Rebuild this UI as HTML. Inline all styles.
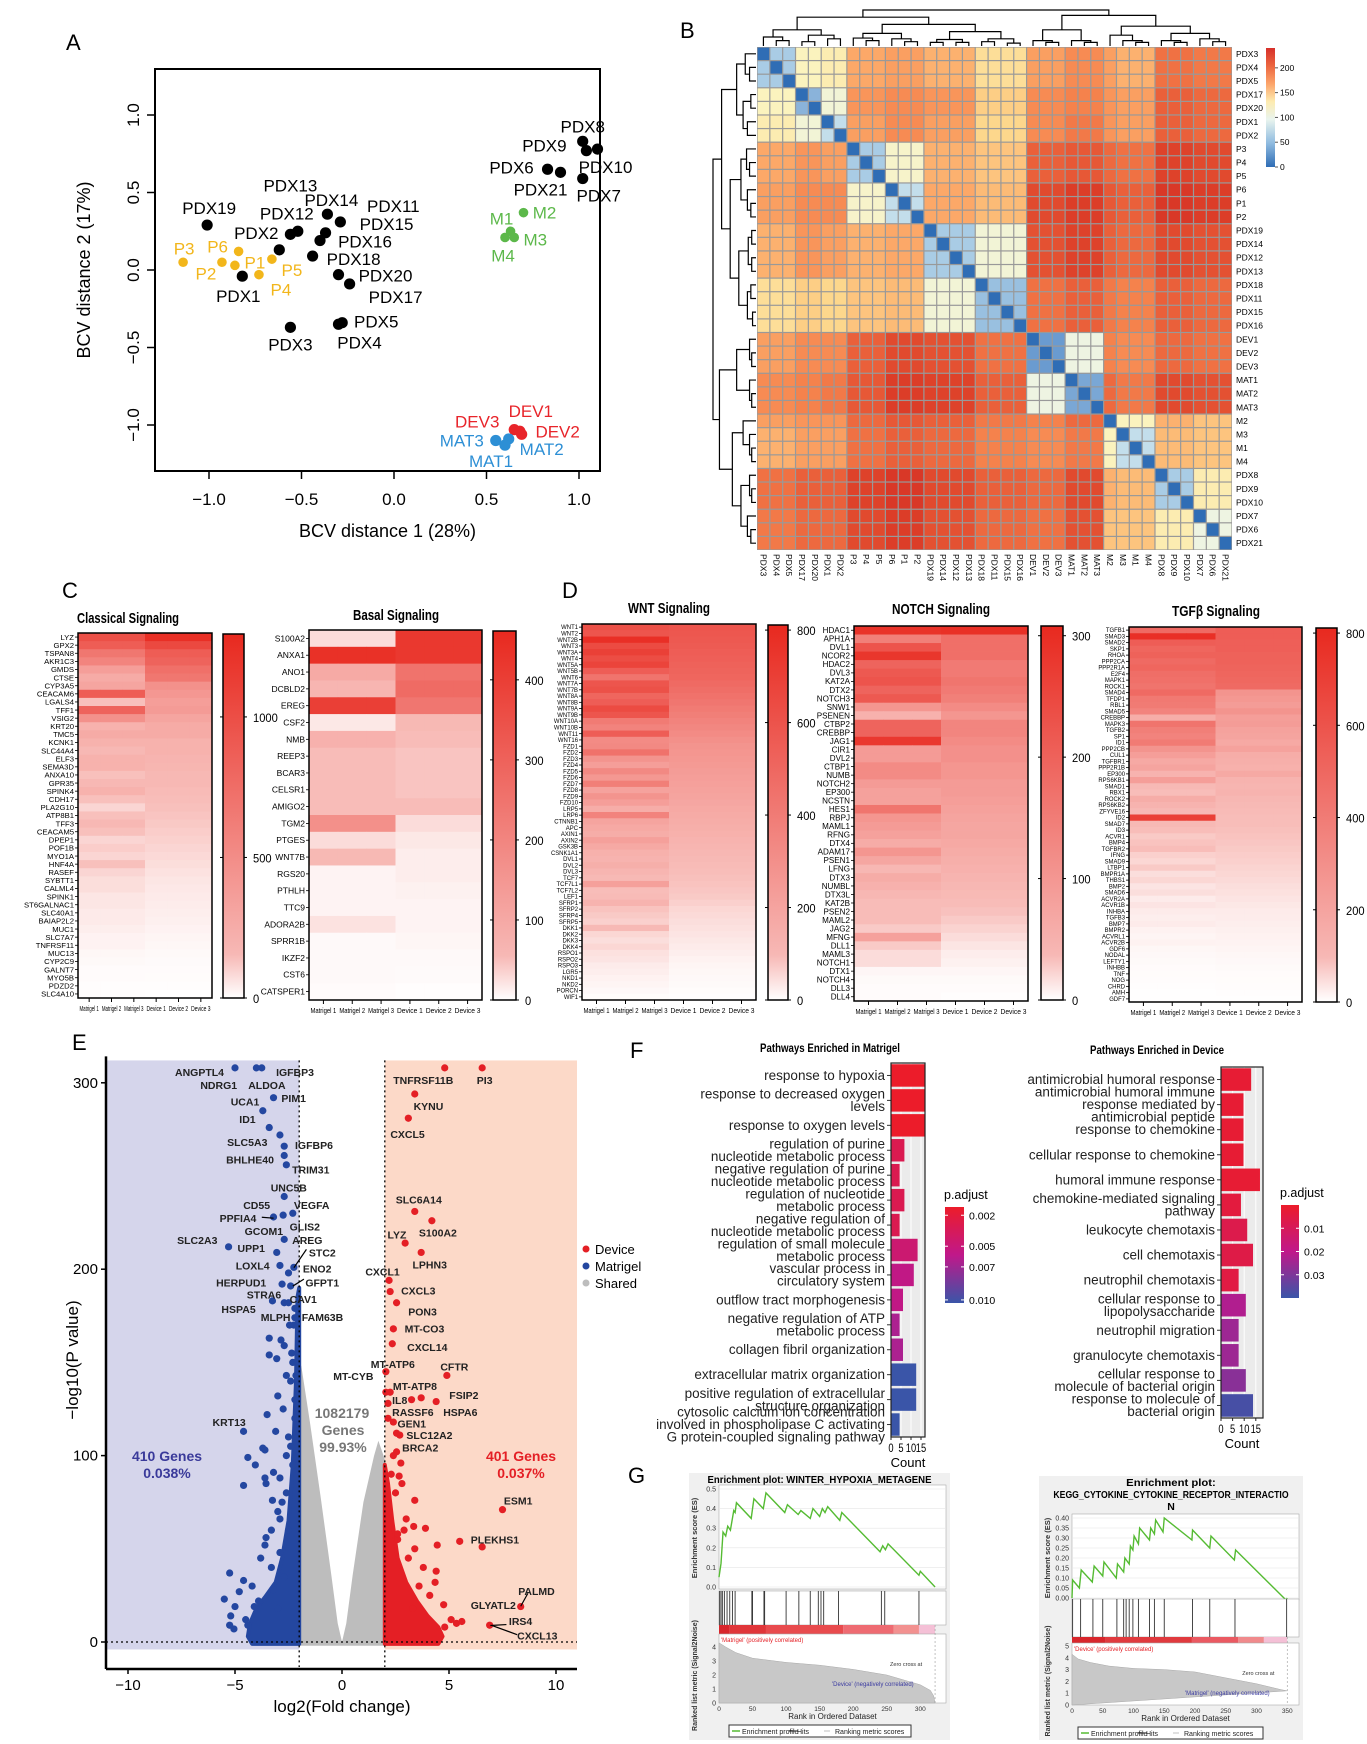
<!DOCTYPE html>
<html><head><meta charset="utf-8">
<style>
body{margin:0;background:#fff;width:1367px;height:1744px;overflow:hidden}
svg{display:block;font-family:"Liberation Sans",Arial,sans-serif}
</style></head>
<body>
<svg id="fig" width="1367" height="1744" viewBox="0 0 1367 1744">
<defs>
<linearGradient id="gRed" x1="0" y1="1" x2="0" y2="0"><stop offset="0" stop-color="#ffffff"/><stop offset="0.12" stop-color="#f7b8b5"/><stop offset="1" stop-color="#e8291f"/></linearGradient>
<linearGradient id="gB" x1="0" y1="1" x2="0" y2="0"><stop offset="0" stop-color="#2f6db5"/><stop offset="0.2" stop-color="#8fbbe0"/><stop offset="0.4" stop-color="#e9f4ee"/><stop offset="0.55" stop-color="#fdebb0"/><stop offset="0.7" stop-color="#fca46a"/><stop offset="0.85" stop-color="#ec6640"/><stop offset="1" stop-color="#d6302a"/></linearGradient>
<linearGradient id="gP1" x1="0" y1="0" x2="0" y2="1"><stop offset="0" stop-color="#ec1c2a"/><stop offset="0.5" stop-color="#c0188a"/><stop offset="1" stop-color="#3a55a8"/></linearGradient>
</defs>
</svg>
<script>
/* ---------- Panel A data ---------- */
const pcaNames=['PDX19','PDX1','PDX2','PDX12','PDX13','PDX14','PDX11','PDX15','PDX16','PDX18','PDX20','PDX17','PDX3','PDX5','PDX4','PDX8','PDX9','PDX10','PDX6','PDX21','PDX7','M1','M2','M3','M4','P3','P6','P2','P1','P5','P4','DEV3','DEV1','DEV2','MAT3','MAT2','MAT1'];
const pcaX=[-1.01,-0.82,-0.62,-0.52,-0.56,-0.36,-0.29,-0.37,-0.40,-0.44,-0.30,-0.24,-0.56,-0.28,-0.30,1.02,1.04,1.10,0.83,0.90,1.02,0.63,0.70,0.65,0.60,-1.14,-0.84,-0.93,-0.86,-0.66,-0.73,0.65,0.68,0.69,0.55,0.62,0.60];
const pcaY=[0.29,-0.04,0.13,0.25,0.23,0.36,0.31,0.24,0.19,0.09,-0.03,-0.09,-0.37,-0.34,-0.35,0.83,0.77,0.78,0.65,0.63,0.59,0.25,0.37,0.21,0.21,0.05,0.12,0.05,0.03,0.07,-0.03,-1.03,-1.04,-1.06,-1.10,-1.09,-1.13];
const pcaGroup=['PDX','PDX','PDX','PDX','PDX','PDX','PDX','PDX','PDX','PDX','PDX','PDX','PDX','PDX','PDX','PDX','PDX','PDX','PDX','PDX','PDX','M','M','M','M','P','P','P','P','P','P','DEV','DEV','DEV','MAT','MAT','MAT'];
const pcaTicks=[-1.0,-0.5,0.0,0.5,1.0];
const pcaLabOff=[[2,-17],[-4,20],[-23,-17],[-11,-18],[0,-49],[4,-14],[53,-16],[61,-9],[45,1],[41,3],[47,1],[46,13],[0,17],[34,-1],[21,18],[0,-15],[-42,-5],[8,18],[-36,-2],[-20,17],[16,17],[-9,-13],[21,0],[21,2],[-2,18],[1,-14],[-21,-5],[-16,11],[20,-3],[20,11],[22,15],[-37,-8],[11,-20],[36,-3],[-34,0],[33,10],[-14,16]];

/* ---------- Panel B data ---------- */
const hmSamples=['PDX3','PDX4','PDX5','PDX17','PDX20','PDX1','PDX2','P3','P4','P5','P6','P1','P2','PDX19','PDX14','PDX12','PDX13','PDX18','PDX11','PDX15','PDX16','DEV1','DEV2','DEV3','MAT1','MAT2','MAT3','M2','M3','M1','M4','PDX8','PDX9','PDX10','PDX7','PDX6','PDX21'];
const hmSub=[0,0,0,1,1,2,2,3,3,3,4,4,4,5,5,5,5,6,6,6,6,7,7,7,8,8,8,9,10,10,10,11,11,11,12,12,12];
const hmSubDist=[
[60,110,115,155,160,150,125,160,170,160,150,185,180],
[110,50,100,165,170,165,135,170,175,165,160,195,190],
[115,100,70,160,170,160,130,170,180,165,160,195,190],
[155,165,160,60,105,150,140,195,200,190,185,215,210],
[160,170,170,105,70,155,145,210,220,200,195,225,220],
[150,165,160,150,155,60,100,205,215,195,190,210,205],
[125,135,130,140,145,100,55,185,195,180,175,195,190],
[160,170,170,195,210,205,185,40,95,175,170,190,185],
[170,175,180,200,220,215,195,95,45,190,180,210,205],
[160,165,165,190,200,195,180,175,190,0,110,150,140],
[150,160,160,185,195,190,175,170,180,110,70,145,140],
[185,195,195,215,225,210,195,190,210,150,145,60,115],
[180,190,190,210,220,205,190,185,205,140,140,115,95]];
const hmTicks=[0,50,100,150,200];
const hmTree=[[[[0,[1,2,.15],.25],[[3,4,.12],[5,6,.2],.3],.45],[[[7,[8,9,.15],.22],[10,[11,12,.12],.2],.35],[[[13,14,.1],[15,16,.1],.18],[[17,18,.12],[19,20,.08],.2],.4],.6],.8],[[[21,[22,23,.1],.15],[24,[25,26,.1],.15],.45],[[27,[28,[29,30,.1],.15],.3],[[31,[32,33,.1],.15],[34,[35,36,.12],.2],.35],.55],.85],1.0];

/* ---------- Panel C/D data ---------- */
const heatCols=['Matrigel 1','Matrigel 2','Matrigel 3','Device 1','Device 2','Device 3'];
const classicalGenes=['LYZ','GPX2','TSPAN8','AKR1C3','GMDS','CTSE','CYP3A5','CEACAM6','LGALS4','TFF1','VSIG2','KRT20','TMC5','KCNK1','SLC44A4','ELF3','SEMA3D','ANXA10','GPR35','SPINK4','CDH17','PLA2G10','ATP8B1','TFF3','CEACAM5','DPEP1','POF1B','MYO1A','HNF4A','RASEF','SYBTT1','CALML4','SPINK1','ST6GALNAC1','SLC40A1','BAIAP2L2','MUC1','SLC7A7','TNFRSF11','MUC13','CYP2C9','GALNT7','MYO5B','PDZD2','SLC4A10'];
const classicalM=[1000,900,700,600,400,300,350,900,150,850,500,250,300,250,200,250,250,150,200,250,150,100,150,200,150,100,120,100,150,100,80,80,60,60,50,50,40,30,30,20,15,10,10,5,5];
const classicalD=[1250,1050,900,850,750,700,500,450,400,420,350,300,300,250,250,230,220,200,200,180,160,150,140,130,120,110,100,90,80,70,60,55,50,45,40,35,30,25,20,15,12,10,8,5,3];
const basalGenes=['S100A2','ANXA1','ANO1','DCBLD2','EREG','CSF2','NMB','REEP3','BCAR3','CELSR1','AMIGO2','TGM2','PTGES','WNT7B','RGS20','PTHLH','TTC9','ADORA2B','SPRR1B','IKZF2','CST6','CATSPER1'];
const basalM=[30,440,110,80,400,20,90,60,60,60,60,180,30,70,10,10,10,25,5,5,5,3];
const basalD=[420,420,260,280,250,70,60,50,50,50,60,30,20,15,15,12,10,10,8,5,4,2];
const wntM=[620,600,780,650,700,640,680,560,450,600,620,520,560,650,600,420,380,560,340,350,460,300,250,350,280,400,230,300,250,180,380,220,200,180,240,200,160,150,170,140,120,240,100,110,150,90,80,70,120,60,50,60,45,40,30,25,20,15,10,5];
const wntD=[600,590,580,570,560,550,540,530,520,500,480,460,440,420,400,380,360,340,320,300,290,280,270,260,250,240,230,220,210,200,190,180,170,160,150,140,130,120,110,100,95,90,85,80,70,60,55,50,45,40,35,30,25,20,15,12,10,8,5,3];
const notchGenes=['HDAC1','APH1A','DVL1','NCOR2','HDAC2','DVL3','KAT2A','DTX2','NOTCH3','SNW1','PSENEN','CTBP2','CREBBP','JAG1','CIR1','DVL2','CTBP1','NUMB','NOTCH2','EP300','NCSTN','HES1','RBPJ','MAML1','RFNG','DTX4','ADAM17','PSEN1','LFNG','DTX3','NUMBL','DTX3L','KAT2B','PSEN2','MAML2','JAG2','MFNG','DLL1','MAML3','NOTCH1','DTX1','NOTCH4','DLL3','DLL4'];
const notchM=[290,150,230,285,200,220,230,200,220,110,60,200,200,280,100,100,130,130,100,90,90,170,110,100,90,70,110,80,50,70,60,50,40,40,40,30,90,30,20,20,5,3,2,2];
const notchD=[295,180,180,180,160,160,170,160,150,130,110,140,140,130,120,120,110,110,100,100,95,90,85,80,80,75,70,65,60,55,50,45,40,35,30,25,20,15,10,8,5,3,2,1];
const tgfM=[500,780,560,520,540,500,520,480,470,450,500,430,420,380,180,450,400,380,420,300,250,200,220,150,250,120,100,180,150,120,700,120,100,80,90,100,70,60,80,50,60,40,50,30,40,30,25,30,20,15,20,12,10,8,6,5,4,3,2,1];
const tgfD=[560,560,550,550,540,540,530,520,510,500,300,280,260,300,250,260,230,220,200,230,180,170,160,200,150,140,150,130,120,110,100,100,95,90,85,80,75,70,65,60,55,50,45,40,35,30,28,25,22,20,18,15,12,10,8,6,5,4,3,2];
const wntGenes=['WNT1','WNT2','WNT2B','WNT3','WNT3A','WNT4','WNT5A','WNT5B','WNT6','WNT7A','WNT7B','WNT8A','WNT8B','WNT9A','WNT9B','WNT10A','WNT10B','WNT11','WNT16','FZD1','FZD2','FZD3','FZD4','FZD5','FZD6','FZD7','FZD8','FZD9','FZD10','LRP5','LRP6','CTNNB1','APC','AXIN1','AXIN2','GSK3B','CSNK1A1','DVL1','DVL2','DVL3','TCF7','TCF7L1','TCF7L2','LEF1','SFRP1','SFRP2','SFRP4','SFRP5','DKK1','DKK2','DKK3','DKK4','RSPO1','RSPO2','RSPO3','LGR5','NKD1','NKD2','PORCN','WIF1'];
const tgfGenes=['TGFB1','SMAD3','SMAD2','SKP1','RHOA','PPP2CA','PPP2R1A','E2F4','MAPK1','ROCK1','SMAD4','TFDP1','RBL1','SMAD5','CREBBP','MAPK3','TGFB2','SP1','ID1','PPP2CB','CUL1','TGFBR1','PPP2R1B','EP300','RPS6KB1','SMAD1','RBX1','ROCK2','RPS6KB2','ZFYVE16','ID2','SMAD7','ID3','ACVR1','BMP4','TGFBR2','IFNG','SMAD9','LTBP1','BMPR1A','THBS1','BMP2','SMAD6','ACVR2A','ACVR1B','INHBA','TGFB3','BMP7','BMPR2','ACVRL1','ACVR2B','GDF6','NODAL','LEFTY1','INHBB','TNF','NOG','CHRD','AMH','GDF7'];

/* ---------- Panel E data ---------- */
const volXTicks=[-10,-5,0,5,10];
const volYTicks=[0,100,200,300];
const blueX=[-5.0,-4.0,-3.75,-3.2,-3.7,-3.4,-2.9,-2.7,-2.7,-2.6,-2.7,-2.3,-2.75,-3.2,-2.7,-5.3,-3.05,-2.9,-2.5,-2.25,-2.8,-2.4,-3.25,-2.7,-2.5,-2.2,-2.2,-2.25,-3.4,-2.85,-2.7,-3.4,-3.05,-2.6,-2.15,-3.0,-2.75,-3.5,-4.6,-3.1,-3.7,-3.6,-4.4,-4.05,-3.2,-3.6,-4.6,-3.55,-3.25,-2.9,-3.55,-5.25,-4.6,-5.5,-5.0,-5.2,-5.25,-5.05,-4.4,-4.1,-2.3,-2.4,-2.2,-2.5,-2.3,-2.6,-2.2,-2.4,-3.8,-3.3,-4.2,-2.9,-2.8,-3.0,-3.3,-3.6,-3.9,-2.6,-2.9,-3.2,-2.5,-2.7,-4.8,-4.5,-3.0,-2.45,-2.35];
const blueY=[308,308,308,292,285,276,272,266,261,256,239,230,229,228,216,212,209,202,198,201,192,191,183,182,182,179,174,170,163,162,159,154,152,143,143,132,125,122,113,113,104,103,99,95,91,88,84,85,76,66,56,37,33,23,19,14,9,7,9,19,150,140,120,110,95,80,130,105,45,60,30,48,75,70,40,52,22,100,88,28,60,35,27,12,18,170,155];
const redX=[4.8,6.55,3.4,3.1,3.4,4.2,2.95,3.7,2.2,2.25,2.55,2.4,2.35,2.05,4.9,2.05,2.25,3.25,3.7,4.4,2.15,2.15,2.4,2.55,2.7,2.55,2.75,2.67,3.4,7.5,3.35,3.9,5.5,6.55,4.45,3.4,4.35,4.75,8.35,6.9,5.35,4.8,3.8,2.3,2.5,2.2,2.9,3.1,2.6,5.1,4.1,3.6,2.8,3.0,2.4,2.6,4.4,5.6,3.3];
const redY=[308,308,294,281,231,226,214,209,194,188,182,168,160,145,143,134,134,130,131,129,128,120,118,112,111,102,96,89,76,71,62,61,54,51,52,50,32,20,19,9,10,8,40,90,80,70,60,45,55,12,25,30,85,66,100,58,38,11,18];
const greyEnvX=[-2.0,-1.9,-1.5,-1.0,-0.5,-0.2,0,0.2,0.5,1.0,1.5,1.7,2.0];
const greyEnvY=[150,148,118,78,36,10,0,10,36,75,100,108,98];
const blueDenseX=[-2.0,-2.0,-2.08,-2.15,-2.3,-2.5,-2.8,-3.1,-3.6,-4.0,-4.3,-4.4,-4.2,-2.0];
const blueDenseY=[-1,190,185,140,95,65,45,32,24,18,10,3,-1,-1];
const redDenseX=[2.0,2.0,2.15,2.35,2.6,3.0,3.5,4.0,4.5,4.7,4.5,2.0];
const redDenseY=[-1,95,85,65,45,32,22,14,8,3,-1,-1];
const volLabels=[['ANGPTL4',322,113],['IGFBP3',605,113],['NDRG1',393,142],['ALDOA',527,142],['UCA1',478,178],['PIM1',620,170],['ID1',502,216],['SLC5A3',468,266],['IGFBP6',658,273],['BHLHE40',465,304],['TRIM31',650,326],['UNC5B',590,365],['CD55',513,403],['VEGFA',655,403],['PPFIA4',447,432],['GCOM1',517,460],['GLIS2',643,450],['SLC2A3',328,480],['AREG',650,480],['UPP1',497,497],['STC2',697,507],['LOXL4',492,535],['ENO2',680,542],['HERPUD1',437,572],['GFPT1',687,572],['STRA6',523,598],['CAV1',643,608],['HSPA5',452,630],['MLPH',562,648],['FAM63B',677,648],['KRT13',427,876],['TNFRSF11B',933,131],['PI3',1167,131],['KYNU',990,188],['CXCL5',925,248],['SLC6A14',940,391],['S100A2',1005,463],['LYZ',917,468],['LPHN3',987,533],['CXCL1',855,548],['CXCL3',955,590],['PON3',975,636],['MT-CO3',965,673],['CXCL14',972,713],['MT-ATP6',870,750],['CFTR',1065,755],['MT-CYB',765,776],['MT-ATP8',932,798],['FSIP2',1090,818],['IL8',930,828],['RASSF6',930,855],['HSPA6',1073,855],['GEN1',945,880],['SLC12A2',970,905],['BRCA2',958,932],['ESM1',1243,1048],['PLEKHS1',1150,1133],['PALMD',1283,1245],['GLYATL2',1150,1275],['IRS4',1257,1310],['CXCL13',1280,1342]];

/* ---------- Panel F data ---------- */
const matTerms=[['response to hypoxia'],['response to decreased oxygen','levels'],['response to oxygen levels'],['regulation of purine','nucleotide metabolic process'],['negative regulation of purine','nucleotide metabolic process'],['regulation of nucleotide','metabolic process'],['negative regulation of','nucleotide metabolic process'],['regulation of small molecule','metabolic process'],['vascular process in','circulatory system'],['outflow tract morphogenesis'],['negative regulation of ATP','metabolic process'],['collagen fibril organization'],['extracellular matrix organization'],['positive regulation of extracellular','structure organization'],['cytosolic calcium ion concentration','involved in phospholipase C activating','G protein-coupled signaling pathway']];
const matCount=[17,17,17,6.7,4.3,6.7,4.3,13.3,11.4,6,4.3,6,12.6,12.6,4.3];
const matP=[0.0008,0.0008,0.0008,0.003,0.003,0.003,0.003,0.0045,0.0055,0.0055,0.0065,0.0065,0.0105,0.0105,0.0105];
const devTerms=[['antimicrobial humoral response'],['antimicrobial humoral immune','response mediated by','antimicrobial peptide'],['response to chemokine'],['cellular response to chemokine'],['humoral immune response'],['chemokine-mediated signaling','pathway'],['leukocyte chemotaxis'],['cell chemotaxis'],['neutrophil chemotaxis'],['cellular response to','lipopolysaccharide'],['neutrophil migration'],['granulocyte chemotaxis'],['cellular response to','molecule of bacterial origin'],['response to molecule of','bacterial origin']];
const devCount=[13,9.7,9.7,9.7,16.8,8.6,11.3,13.8,7.6,10.7,7.6,7.6,10.7,13.8];
const devP=[0.002,0.002,0.002,0.002,0.002,0.004,0.007,0.006,0.005,0.022,0.025,0.025,0.028,0.038];
const countTicks=[0,5,10,15];

/* ---------- Panel G data ---------- */
const g1Rank=[0,3,6,10,13,17,22,24,26,48,52,66,70,98,102,118,122,136,140,150,154,158,162,180,183,240,244,248,252,298,300,322];
const g1ES=[0.05,0.12,0.28,0.26,0.31,0.29,0.39,0.38,0.43,0.35,0.45,0.40,0.48,0.38,0.42,0.37,0.39,0.35,0.40,0.36,0.40,0.38,0.41,0.34,0.38,0.18,0.21,0.19,0.22,0.06,0.08,0.0];
const g1Hits=[1,3,5,8,12,16,20,24,49,50,67,68,100,119,136,148,152,156,178,242,247,298];
const g1MetRank=[0,10,25,50,100,150,200,250,300,315,320,322];
const g1Met=[4.3,4.0,3.6,3.2,2.9,2.7,2.4,2.0,1.3,0.9,0.5,0];
const g2Rank=[0,1,12,15,33,36,50,52,72,74,84,86,93,95,99,101,108,110,126,128,134,136,148,150,195,196,224,226,264,266,348,350];
const g2ES=[0.0,0.09,0.05,0.14,0.08,0.16,0.11,0.18,0.10,0.17,0.13,0.20,0.17,0.26,0.24,0.31,0.27,0.35,0.29,0.35,0.32,0.39,0.33,0.40,0.29,0.34,0.25,0.31,0.19,0.24,-0.01,0.0];
const g2Hits=[1,14,34,50,73,84,88,93,99,108,126,134,150,196,224,265,349];
const g2MetRank=[0,10,30,60,100,150,200,250,300,340,350];
const g2Met=[4.3,3.9,3.6,3.3,3.1,3.0,2.8,2.3,1.8,1.3,1.2];

/* ---------- helpers ---------- */
const NS='http://www.w3.org/2000/svg';
const svg=document.getElementById('fig');
function mk(tag,attrs,nm,parent,txt){
  const el=document.createElementNS(NS,tag);
  for(const k in attrs){ if(attrs[k]!==undefined&&attrs[k]!=='') el.setAttribute(k,attrs[k]); }
  
  
  if(txt!==undefined) el.textContent=txt;
  (parent||svg).appendChild(el);
  return el;
}
function T(x,y,s,o,nm,parent){
  o=o||{};
  const a={x:x,y:y,'font-size':o.fs||12,fill:o.fill||'#000','text-anchor':o.a||'start'};
  if(o.fw) a['font-weight']=o.fw;
  if(o.rot) a.transform='rotate('+o.rot+' '+x+' '+y+')';
  if(o.tl){a.textLength=o.tl;a.lengthAdjust='spacingAndGlyphs';}
  return mk('text',a,nm,parent,s);
}
function L(x1,y1,x2,y2,st,w,nm,dash){return mk('line',{x1:x1,y1:y1,x2:x2,y2:y2,stroke:st||'#000','stroke-width':w||1,'stroke-dasharray':dash},nm);}
function R(x,y,w,h,f,nm,o){o=o||{};return mk('rect',{x:x,y:y,width:w,height:h,fill:f,stroke:o.st,'stroke-width':o.sw},nm);}
function lerpC(stops,t){
  t=Math.max(0,Math.min(1,t));
  for(let i=1;i<stops.length;i++){ if(t<=stops[i][0]){const a=stops[i-1],b=stops[i];const u=(t-a[0])/(b[0]-a[0]||1);
    const c=[0,1,2].map(k=>Math.round(a[1][k]+(b[1][k]-a[1][k])*u));return 'rgb('+c.join(',')+')';}}
  const l=stops[stops.length-1][1];return 'rgb('+l.join(',')+')';
}

/* ---------- Panel A ---------- */
(function(){
  T(66,50,'A',{fs:22},'panel-a-label');
  const X0=394,XS=185,Y0=270,YS=155,left=155,right=600,top=69,bot=471;
  const px=v=>X0+v*XS, py=v=>Y0-v*YS;
  mk('rect',{x:left,y:top,width:right-left,height:bot-top,fill:'none',stroke:'#000','stroke-width':2},'pca-plot-frame');
  pcaTicks.forEach(t=>{
    L(px(t),bot,px(t),bot+8,'#000',1.5,'x-tick');
    T(px(t),bot+34,t.toFixed(1).replace('-','\u2212'),{fs:17,a:'middle'},'x-tick-label');
    L(left-8,py(t),left,py(t),'#000',1.5,'y-tick');
    T(left-16,py(t),t.toFixed(1).replace('-','\u2212'),{fs:17,a:'middle',rot:-90},'y-tick-label');
  });
  T((left+right)/2+10,bot+66,'BCV distance 1 (28%)',{fs:18,a:'middle'},'x-axis-title');
  T(90,Y0,'BCV distance 2 (17%)',{fs:18,a:'middle',rot:-90},'y-axis-title');
  const col={PDX:'#000',P:'#f2b61b',M:'#5cb84a',DEV:'#e8242a',MAT:'#2d8fd5'};
  pcaNames.forEach((n,i)=>{
    const g=pcaGroup[i],x=px(pcaX[i]),y=py(pcaY[i]);
    mk('circle',{cx:x,cy:y,r:(g==='P'||g==='M')?4.8:5.6,fill:col[g]},'pca-point-'+n.toLowerCase());
  });
  pcaNames.forEach((n,i)=>{
    const g=pcaGroup[i],x=px(pcaX[i]),y=py(pcaY[i]),o=pcaLabOff[i];
    T(x+o[0],y+o[1]+6,n,{fs:17,a:'middle',fill:col[g]},'pca-label-'+n.toLowerCase());
  });
})();

/* ---------- Panel B ---------- */
(function(){
  T(680,38,'B',{fs:22},'panel-b-label');
  const gx0=757,gx1=1232,gy0=47,gy1=550,n=hmSamples.length,cw=(gx1-gx0)/n,ch=(gy1-gy0)/n;
  const stops=[[0,[47,109,181]],[40/240,[106,155,208]],[65/240,[185,216,234]],[90/240,[233,244,238]],[110/240,[251,243,190]],[130/240,[253,215,140]],[155/240,[252,168,104]],[175/240,[245,130,76]],[195/240,[234,96,58]],[215/240,[222,66,42]],[1,[210,40,34]]];
  R(gx0,gy0,gx1-gx0,gy1-gy0,'#999','heatmap-background');
  for(let i=0;i<n;i++)for(let j=0;j<n;j++){
    const v=i===j?0:hmSubDist[hmSub[i]][hmSub[j]];
    R(gx0+j*cw+0.6,gy0+i*ch+0.6,cw-1.2,ch-1.2,lerpC(stops,v/240),'heatmap-cell');
  }
  hmSamples.forEach((s,i)=>{
    T(gx1+4,gy0+i*ch+ch/2+3,s,{fs:8.5},'row-label-'+s.toLowerCase());
    const cx=gx0+i*cw+cw/2-3;
    T(cx,gy1+4,s,{fs:8.5,rot:90},'col-label-'+s.toLowerCase());
  });
  function drawTree(node,orient){
    if(typeof node==='number') return {p:node+0.5,h:0};
    const a=drawTree(node[0],orient),b=drawTree(node[1],orient),h=node[2];
    if(orient==='top'){
      const yy=hv=>gy0-1-hv*36, xx=p=>gx0+p*cw;
      mk('path',{d:'M'+xx(a.p)+' '+yy(a.h)+'V'+yy(h)+'H'+xx(b.p)+'V'+yy(b.h),fill:'none',stroke:'#000','stroke-width':1.2},'column-dendrogram-branch');
    }else{
      const xx=hv=>gx0-1-hv*43, yy=p=>gy0+p*ch;
      mk('path',{d:'M'+xx(a.h)+' '+yy(a.p)+'H'+xx(h)+'V'+yy(b.p)+'H'+xx(b.h),fill:'none',stroke:'#000','stroke-width':1.2},'row-dendrogram-branch');
    }
    return {p:(a.p+b.p)/2,h:h};
  }
  drawTree(hmTree,'top');drawTree(hmTree,'left');
  const cx0=1266,cy0=48,cy1=167;
  R(cx0,cy0,9,cy1-cy0,'url(#gB)','distance-colorbar');
  hmTicks.forEach(t=>{const y=cy1-t/240*(cy1-cy0);L(cx0+9,y,cx0+12,y,'#555',1,'colorbar-tick');T(cx0+14,y+3,String(t),{fs:8.5},'colorbar-tick-label');});
})();

/* ---------- Panels C/D heatmaps ---------- */
function heat(c){
  const n=c.m.length,rh=(c.y1-c.y0)/n,cw=(c.x1-c.x0)/6;
  for(let i=0;i<n;i++)for(let j=0;j<6;j++){
    const v=j<3?c.m[i]:c.d[i];
    R(c.x0+j*cw,c.y0+i*rh,cw+0.4,rh+0.4,lerpC([[0,[255,255,255]],[0.12,[248,190,186]],[1,[232,41,31]]],v/c.max),c.nm+'-cell');
  }
  mk('rect',{x:c.x0,y:c.y0,width:c.x1-c.x0,height:c.y1-c.y0,fill:'none',stroke:'#000','stroke-width':1.5},c.nm+'-frame');
  if(c.labels){const fs=Math.min(rh*0.95,8.5);
    c.labels.forEach((g,i)=>{const y=c.y0+i*rh+rh/2;if(rh>5)L(c.x0-3,y,c.x0,y,'#000',0.8,'row-tick');
      T(c.x0-4,y+fs*0.35,g,{fs:fs,a:'end'},c.nm+'-row-label');});}
  heatCols.forEach((s,j)=>{const x=c.x0+j*cw+cw/2;L(x,c.y1,x,c.y1+4,'#000',1,'col-tick');T(x,c.y1+13,s,{fs:7.5,a:'middle',tl:cw-3},c.nm+'-col-label');});
  T(c.tx,c.ty,c.title,{fs:15,fw:'bold',a:'middle',tl:c.tw},c.nm+'-title');
  const b=c.cb;
  R(b.x0,b.y0,b.x1-b.x0,b.y1-b.y0,'url(#gRed)',c.nm+'-colorbar',{st:'#000',sw:1.5});
  c.ticks.forEach(t=>{const y=b.y1-t/c.max*(b.y1-b.y0);L(b.x1,y,b.x1+3,y,'#000',1,'colorbar-tick');L(b.x0-3,y,b.x0,y,'#000',1,'colorbar-tick');
    T(b.x1+9,y+5,String(t),{fs:12,tl:String(t).length*6.2},c.nm+'-colorbar-label');});
}
T(62,598,'C',{fs:22},'panel-c-label');
T(562,598,'D',{fs:22},'panel-d-label');
heat({nm:'classical',x0:78,x1:212,y0:633,y1:998,m:classicalM,d:classicalD,max:1295,labels:classicalGenes,title:'Classical Signaling',tx:128,ty:623,tw:102,cb:{x0:223,x1:244,y0:634,y1:998},ticks:[0,500,1000]});
heat({nm:'basal',x0:309,x1:482,y0:630,y1:1000,m:basalM,d:basalD,max:461,labels:basalGenes,title:'Basal Signaling',tx:396,ty:620,tw:86,cb:{x0:493,x1:516,y0:631,y1:1000},ticks:[0,100,200,300,400]});
heat({nm:'wnt',x0:582,x1:756,y0:624,y1:1000,m:wntM,d:wntD,max:811,labels:wntGenes,title:'WNT Signaling',tx:669,ty:613,tw:82,cb:{x0:768,x1:788,y0:625,y1:1000},ticks:[0,200,400,600,800]});
heat({nm:'notch',x0:854,x1:1028,y0:626,y1:1001,m:notchM,d:notchD,max:308,labels:notchGenes,title:'NOTCH Signaling',tx:941,ty:614,tw:98,cb:{x0:1041,x1:1063,y0:626,y1:1000},ticks:[0,100,200,300]});
heat({nm:'tgfb',x0:1129,x1:1302,y0:627,y1:1002,m:tgfM,d:tgfD,max:811,labels:tgfGenes,title:'TGF\u03B2 Signaling',tx:1216,ty:616,tw:88,cb:{x0:1316,x1:1337,y0:628,y1:1002},ticks:[0,200,400,600,800]});

/* ---------- Panel E volcano ---------- */
(function(){
  T(72,1050,'E',{fs:22},'panel-e-label');
  const vx=x=>342+x*21.4, vy=y=>1642-y*1.864;
  const left=106,right=577,topY=vy(312),bot=1669;
  R(left,topY,vx(-2)-left,vy(-4)-topY,'#d5d5eb','matrigel-shading');
  R(vx(2),topY,right-vx(2),vy(-4)-topY,'#fcd9c8','device-shading');
  mk('polygon',{points:greyEnvX.map((x,i)=>vx(x)+','+vy(greyEnvY[i])).join(' ')+' '+vx(2)+','+vy(-2)+' '+vx(-2)+','+vy(-2),fill:'#bdbdbd'},'shared-genes-cloud');
  mk('polygon',{points:blueDenseX.map((x,i)=>vx(x)+','+vy(blueDenseY[i])).join(' '),fill:'#2447a0',stroke:'#2447a0','stroke-width':4,'stroke-linejoin':'round'},'matrigel-dense-points');
  mk('polygon',{points:redDenseX.map((x,i)=>vx(x)+','+vy(redDenseY[i])).join(' '),fill:'#e41f25',stroke:'#e41f25','stroke-width':4,'stroke-linejoin':'round'},'device-dense-points');
  blueX.forEach((x,i)=>mk('circle',{cx:vx(x),cy:vy(blueY[i]),r:3.6,fill:'#2447a0'},'matrigel-gene-point'));
  redX.forEach((x,i)=>mk('circle',{cx:vx(x),cy:vy(redY[i]),r:3.6,fill:'#e41f25'},'device-gene-point'));
  L(vx(-2),topY,vx(-2),bot-2,'#000',1.3,'fc-threshold-left','2,3');
  L(vx(2),topY,vx(2),bot-2,'#000',1.3,'fc-threshold-right','2,3');
  L(left,vy(0),right,vy(0),'#000',1.3,'p-threshold-line','2,3');
  L(left,topY-4,left,bot,'#000',2.5,'y-axis-line');
  L(left,bot,right,bot,'#000',2.5,'x-axis-line');
  volYTicks.forEach(t=>{L(left-5,vy(t),left,vy(t),'#000',1.5,'y-tick');T(left-8,vy(t)+5,String(t),{fs:15,a:'end'},'y-tick-label');});
  volXTicks.forEach(t=>{L(vx(t),bot,vx(t),bot+5,'#000',1.5,'x-tick');T(vx(t),bot+21,String(t).replace('-','\u2212'),{fs:15,a:'middle'},'x-tick-label');});
  T(342,1712,'log2(Fold change)',{fs:17,a:'middle'},'x-axis-title');
  T(78,1360,'\u2212log10(P value)',{fs:17,a:'middle',rot:-90},'y-axis-title');
  volLabels.forEach(l=>T(60+l[1]/2.8,1020+l[2]/2.18+4,l[0],{fs:10.5,fw:'bold',fill:'#222'},'gene-label-'+l[0].toLowerCase()));
  [[565,430,598,432],[690,500,655,540],[683,565,652,580],[1310,1250,1290,1278],[1250,1318,1205,1320],[1280,1340,1210,1320]].forEach(s=>L(60+s[0]/2.8,1020+s[1]/2.18,60+s[2]/2.8,1020+s[3]/2.18,'#000',1.2,'label-leader-line'));
  T(167,1461,'410 Genes',{fs:14,fw:'bold',a:'middle',fill:'#3a3a9a'},'matrigel-gene-count');
  T(167,1478,'0.038%',{fs:14,fw:'bold',a:'middle',fill:'#3a3a9a'},'matrigel-gene-percent');
  T(342,1418,'1082179',{fs:14,fw:'bold',a:'middle',fill:'#777'},'shared-gene-count');
  T(343,1435,'Genes',{fs:14,fw:'bold',a:'middle',fill:'#777'},'shared-gene-label');
  T(343,1452,'99.93%',{fs:14,fw:'bold',a:'middle',fill:'#777'},'shared-gene-percent');
  T(521,1461,'401 Genes',{fs:14,fw:'bold',a:'middle',fill:'#e41f25'},'device-gene-count');
  T(521,1478,'0.037%',{fs:14,fw:'bold',a:'middle',fill:'#e41f25'},'device-gene-percent');
  [['Device','#e41f25'],['Matrigel','#2447a0'],['Shared','#bdbdbd']].forEach((e,i)=>{
    mk('circle',{cx:586,cy:1249+i*17,r:3.5,fill:e[1]},'legend-marker');
    T(595,1254+i*17,e[0],{fs:13},'legend-entry-'+e[0].toLowerCase());});
})();

/* ---------- Panel F ---------- */
function pcol(p,lo,hi){return lerpC([[0,[236,28,42]],[0.5,[190,24,140]],[1,[58,85,168]]],(p-lo)/(hi-lo));}
function barChart(c){
  const n=c.terms.length,rh=(c.y1-c.y0)/n;
  R(c.x0,c.y0,c.x1-c.x0,c.y1-c.y0,'#ebebeb',c.nm+'-panel-bg');
  countTicks.forEach(t=>L(c.x0+t*c.s,c.y0,c.x0+t*c.s,c.y1,'#fff',1,'grid-line'));
  c.terms.forEach((lines,i)=>{
    const yc=c.y0+rh*i+rh/2;
    R(c.x0,yc-rh*0.45,c.vals[i]*c.s,rh*0.9,pcol(c.p[i],c.plo,c.phi),c.nm+'-bar');
    L(c.x0-4,yc,c.x0,yc,'#333',1,'y-tick');
    const lh=12.5,st=yc-(lines.length-1)*lh/2+4.5;
    lines.forEach((s,k)=>T(c.x0-6,st+k*lh,s,{fs:13.5,a:'end',fill:'#222'},c.nm+'-term-label'));
  });
  mk('rect',{x:c.x0,y:c.y0,width:c.x1-c.x0,height:c.y1-c.y0,fill:'none',stroke:'#222','stroke-width':1.2},c.nm+'-frame');
  countTicks.forEach(t=>{L(c.x0+t*c.s,c.y1,c.x0+t*c.s,c.y1+3,'#222',1,'x-tick');T(c.x0+t*c.s,c.y1+15,String(t),{fs:12,a:'middle',tl:String(t).length*5.2},'x-tick-label');});
  T((c.x0+c.x1)/2,c.y1+30,'Count',{fs:13,a:'middle'},c.nm+'-x-title');
  T(c.tx,c.ty,c.title,{fs:11.5,fw:'bold',a:'middle',tl:c.tw},c.nm+'-title');
  const b=c.cb;
  T(b.x0-1,b.y0-8,'p.adjust',{fs:12.5},c.nm+'-legend-title');
  R(b.x0,b.y0,b.x1-b.x0,b.y1-b.y0,'url(#gP1)',c.nm+'-colorbar');
  c.cbt.forEach(t=>{const y=b.y0+(t[0]-c.plo)/(c.phi-c.plo)*(b.y1-b.y0);L(b.x0,y,b.x0+3,y,'#fff',1,'colorbar-tick');L(b.x1-3,y,b.x1,y,'#fff',1,'colorbar-tick');T(b.x1+5,y+4,t[1],{fs:10.5},c.nm+'-colorbar-label');});
}
T(630,1058,'F',{fs:22},'panel-f-label');
barChart({nm:'matrigel-pathways',terms:matTerms,vals:matCount,p:matP,plo:0.0012,phi:0.0105,x0:891,x1:925,y0:1063,y1:1437,s:2.0,title:'Pathways Enriched in Matrigel',tx:830,ty:1052,tw:140,cb:{x0:945,x1:964,y0:1207,y1:1303},cbt:[[0.002,'0.002'],[0.005,'0.005'],[0.007,'0.007'],[0.0102,'0.010']]});
barChart({nm:'device-pathways',terms:devTerms,vals:devCount,p:devP,plo:0.0,phi:0.04,x0:1221,x1:1263,y0:1067,y1:1418,s:2.32,title:'Pathways Enriched in Device',tx:1157,ty:1054,tw:134,cb:{x0:1281,x1:1299,y0:1205,y1:1298},cbt:[[0.01,'0.01'],[0.02,'0.02'],[0.03,'0.03']]});

/* ---------- Panel G ---------- */
function gsea(c){
  R(c.bx0,c.by0,c.bx1-c.bx0,c.by1-c.by0,'#f0f0f0',c.nm+'-background');
  c.title.forEach((s,k)=>T((c.bx0+c.bx1)/2,c.ty+k*12,s,{fs:10.5,fw:'bold',a:'middle',tl:s.length>4?Math.min(c.bx1-c.bx0-6,s.length*5.6):undefined},c.nm+'-title'));
  const rx=r=>c.x0+r*c.rs;
  const ey=v=>c.e0-(v/c.emax)*(c.e0-c.eTop);
  R(c.x0,c.eTop-4,c.x1-c.x0,c.e0-c.eTop+6,'#fff',c.nm+'-es-area',{st:'#aaa',sw:0.6});
  c.esTicks.forEach(t=>{L(c.x0,ey(t),c.x1,ey(t),'#e6e6e6',0.6,'grid-line');T(c.x0-3,ey(t)+2.5,t.toFixed(c.dec),{fs:7,a:'end',fill:'#333'},'es-tick-label');});
  mk('polyline',{points:c.rank.map((r,i)=>rx(r)+','+ey(c.es[i])).join(' '),fill:'none',stroke:'#55bb33','stroke-width':1.4},c.nm+'-enrichment-line');
  R(c.x0,c.h0,c.x1-c.x0,c.h1-c.h0,'#fff',c.nm+'-hits-area',{st:'#aaa',sw:0.6});
  c.hits.forEach(h=>L(rx(h),c.h0,rx(h),c.h1,'#333',0.9,'hit-line'));
  c.seg.forEach(s=>R(rx(s[0]),c.h1,rx(s[1])-rx(s[0]),c.bar,s[2],'rank-color-segment'));
  R(c.x0,c.m0-2,c.x1-c.x0,c.m1-c.m0+2,'#fff',c.nm+'-metric-area',{st:'#aaa',sw:0.6});
  const my=v=>c.m1-v/c.mmax*(c.m1-c.mTop);
  mk('polygon',{points:rx(0)+','+my(0)+' '+c.mr.map((r,i)=>rx(r)+','+my(c.mv[i])).join(' '),fill:'#c8c8c8',stroke:'#aaa','stroke-width':0.5},c.nm+'-ranked-metric');
  c.mTicks.forEach(t=>T(c.x0-3,my(t)+2.5,String(t),{fs:7,a:'end',fill:'#333'},'metric-tick-label'));
  L(rx(c.zero),c.h1,rx(c.zero),c.m1,'#999',0.6,'zero-cross-line','2,2');
  c.xTicks.forEach(t=>T(rx(t),c.m1+8,String(t),{fs:6.5,a:'middle',fill:'#333'},'rank-tick-label'));
  T((c.x0+c.x1)/2,c.m1+16,'Rank in Ordered Dataset',{fs:8,a:'middle',fill:'#222'},c.nm+'-x-title');
  T(c.x0-22,(c.eTop+c.e0)/2,'Enrichment score (ES)',{fs:7.5,a:'middle',rot:-90,fw:'bold',fill:'#333'},c.nm+'-es-title');
  T(c.x0-22,(c.m0+c.m1)/2+6,'Ranked list metric (Signal2Noise)',{fs:7,a:'middle',rot:-90,fw:'bold',fill:'#333'},c.nm+'-metric-title');
  T(c.x0+2,c.m0+6,c.pos,{fs:6,fill:'#e41f25'},'positive-label');
  T(rx(c.zero)-45,c.m0+30,'Zero cross at',{fs:5.5,fill:'#333'},'zero-cross-label');
  T(c.negx,c.m0+50,c.neg,{fs:6,fill:'#3a3aa0'},'negative-label');
  mk('rect',{x:c.lx0,y:c.ly,width:c.lx1-c.lx0,height:12,fill:'#fff',stroke:'#333','stroke-width':1},c.nm+'-legend-box');
  L(c.lx0+3,c.ly+6,c.lx0+11,c.ly+6,'#55bb33',1.5,'legend-line');
  T(c.lx0+13,c.ly+9,'Enrichment profile',{fs:7,fill:'#222'},'legend-entry');
  L(c.lx0+60,c.ly+6,c.lx0+66,c.ly+6,'#333',1.2,'legend-line');
  T(c.lx0+68,c.ly+9,'Hits',{fs:7,fill:'#222'},'legend-entry');
  L(c.lx0+95,c.ly+6,c.lx0+101,c.ly+6,'#ccc',1.2,'legend-line');
  T(c.lx0+106,c.ly+9,'Ranking metric scores',{fs:7,fill:'#222'},'legend-entry');
}
T(628,1483,'G',{fs:22},'panel-g-label');
gsea({nm:'hypoxia-gsea',bx0:689,bx1:950,by0:1473,by1:1740,title:['Enrichment plot: WINTER_HYPOXIA_METAGENE'],ty:1483,
  x0:719,x1:946,rs:0.671,eTop:1489,e0:1587,emax:0.5,esTicks:[0,0.1,0.2,0.3,0.4,0.5],dec:1,rank:g1Rank,es:g1ES,hits:g1Hits,
  h0:1591,h1:1625,bar:9,seg:[[0,15,'#d8262c'],[15,70,'#e0363a'],[70,185,'#e84b4e'],[185,260,'#ee6b72'],[260,298,'#f29190'],[298,322,'#f4c0d6']],
  m0:1636,m1:1703,mTop:1647,mmax:4,mr:g1MetRank,mv:g1Met,mTicks:[0,1,2,3,4],zero:322,xTicks:[0,50,100,150,200,250,300],
  pos:"'Matrigel' (positively correlated)",neg:"'Device' (negatively correlated)",negx:832,lx0:729,lx1:911,ly:1725});
gsea({nm:'cytokine-gsea',bx0:1039,bx1:1303,by0:1476,by1:1740,title:['Enrichment plot:','KEGG_CYTOKINE_CYTOKINE_RECEPTOR_INTERACTIO','N'],ty:1486,
  x0:1072,x1:1299,rs:0.615,eTop:1518,e0:1598,emax:0.4,esTicks:[0,0.05,0.1,0.15,0.2,0.25,0.3,0.35,0.4],dec:2,rank:g2Rank,es:g2ES,hits:g2Hits,
  h0:1599,h1:1637,bar:7,seg:[[0,55,'#d8262c'],[55,195,'#e03a3e'],[195,270,'#ea5a62'],[270,312,'#f08a8c'],[312,350,'#f4c0d6']],
  m0:1645,m1:1705,mTop:1646,mmax:5,mr:g2MetRank,mv:g2Met,mTicks:[0,1,2,3,4,5],zero:350,xTicks:[0,50,100,150,200,250,300,350],
  pos:"'Device' (positively correlated)",neg:"'Matrigel' (negatively correlated)",negx:1185,lx0:1078,lx1:1263,ly:1727});
</script>
</body></html>
